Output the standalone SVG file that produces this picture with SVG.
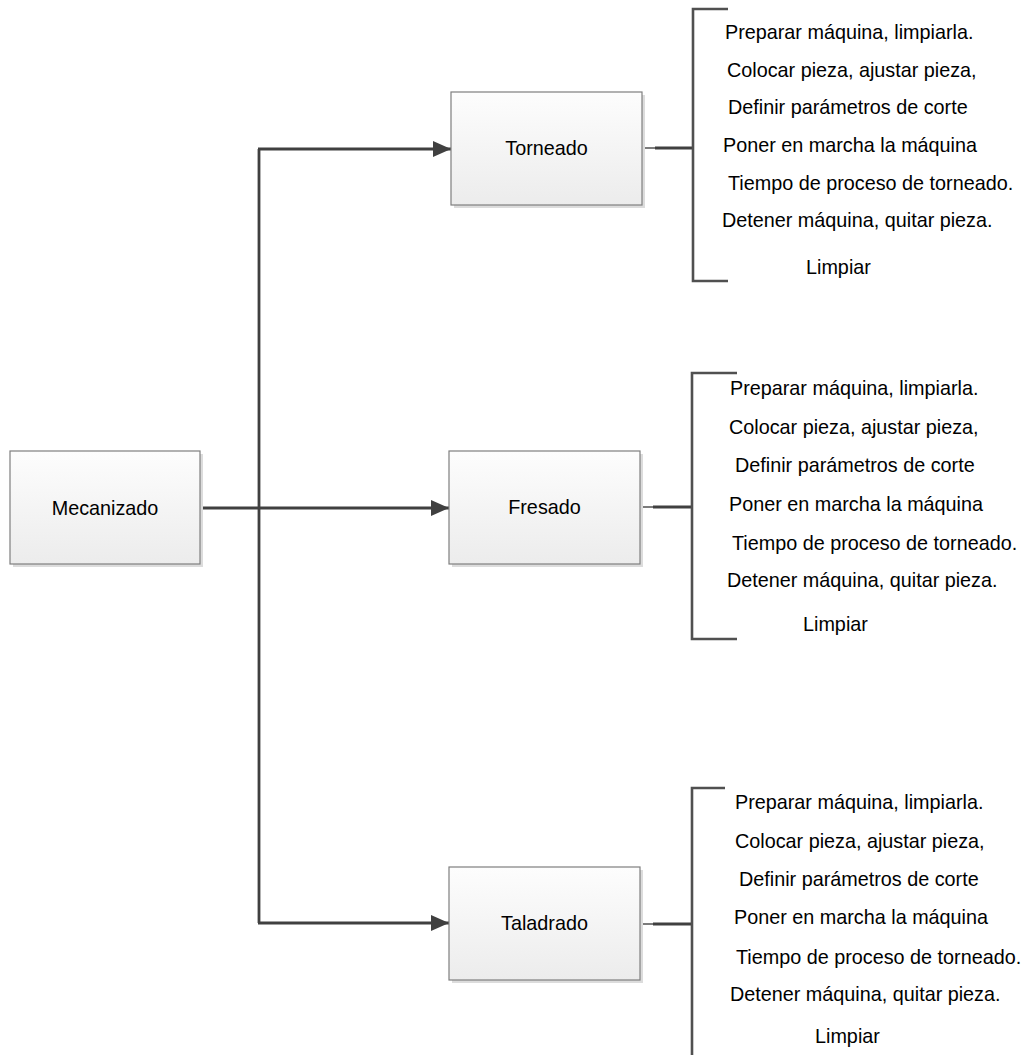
<svg xmlns="http://www.w3.org/2000/svg" width="1023" height="1055" viewBox="0 0 1023 1055">
  <defs>
    <linearGradient id="boxFill" x1="0" y1="0" x2="0" y2="1">
      <stop offset="0" stop-color="#fdfdfd"/>
      <stop offset="1" stop-color="#ececec"/>
    </linearGradient>
    <marker id="arrow" markerWidth="18" markerHeight="16" refX="18" refY="8" orient="auto" markerUnits="userSpaceOnUse">
      <path d="M0,0 L18,8 L0,16 Z" fill="#404040"/>
    </marker>
    <style>
      .shadow { fill: #dcdcdc; }
      .box { fill: url(#boxFill); stroke: #7f7f7f; stroke-width: 1.2; }
      .label { font-family: "Liberation Sans", Arial, sans-serif; font-size: 19.8px; fill: #000; }
      .step { font-family: "Liberation Sans", Arial, sans-serif; font-size: 19.8px; fill: #000; }
      .wire { fill: none; stroke: #404040; stroke-width: 2.8; }
      .thin { fill: none; stroke: #505050; stroke-width: 1.5; }
      .bracket { fill: none; stroke: #505050; stroke-width: 2.6; }
    </style>
  </defs>

  <rect width="1023" height="1055" fill="#ffffff"/>

  <!-- connectors -->
  <g id="connectors">
    <line class="wire" x1="200" y1="508" x2="259" y2="508"/>
    <line class="wire" x1="259" y1="149" x2="259" y2="923"/>
    <line class="wire" x1="258" y1="149" x2="451" y2="149" marker-end="url(#arrow)"/>
    <line class="wire" x1="259" y1="508" x2="449" y2="508" marker-end="url(#arrow)"/>
    <line class="wire" x1="258" y1="923" x2="449" y2="923" marker-end="url(#arrow)"/>

    <!-- box to bracket links -->
    <line class="thin" x1="642" y1="148" x2="656" y2="148"/>
    <line class="wire" x1="655" y1="148" x2="693" y2="148"/>
    <line class="thin" x1="640" y1="507" x2="654" y2="507"/>
    <line class="wire" x1="653" y1="507" x2="692" y2="507"/>
    <line class="thin" x1="640" y1="924" x2="654" y2="924"/>
    <line class="wire" x1="653" y1="924" x2="692" y2="924"/>

    <!-- brackets -->
    <path class="bracket" d="M728,9 H693 V281 H728"/>
    <path class="bracket" d="M737,373 H692 V639 H737"/>
    <path class="bracket" d="M725,788 H692 V1055"/>
  </g>

  <!-- Mecanizado -->
  <g id="mecanizado">
    <rect class="shadow" x="13" y="454" width="190" height="113"/>
    <rect class="box" x="10" y="451" width="190" height="113"/>
    <text class="label" x="105" y="515" text-anchor="middle">Mecanizado</text>
  </g>

  <!-- Torneado -->
  <g id="torneado">
    <rect class="shadow" x="454" y="95" width="191" height="113"/>
    <rect class="box" x="451" y="92" width="191" height="113"/>
    <text class="label" x="546.5" y="155" text-anchor="middle">Torneado</text>
  </g>

  <!-- Fresado -->
  <g id="fresado">
    <rect class="shadow" x="452" y="454" width="191" height="113"/>
    <rect class="box" x="449" y="451" width="191" height="113"/>
    <text class="label" x="544.5" y="514" text-anchor="middle">Fresado</text>
  </g>

  <!-- Taladrado -->
  <g id="taladrado">
    <rect class="shadow" x="452" y="870" width="191" height="113"/>
    <rect class="box" x="449" y="867" width="191" height="113"/>
    <text class="label" x="544.5" y="930" text-anchor="middle">Taladrado</text>
  </g>

  <!-- Torneado steps -->
  <g id="torneado-steps">
    <text class="step" x="725" y="39">Preparar máquina, limpiarla.</text>
    <text class="step" x="727" y="77">Colocar pieza, ajustar pieza,</text>
    <text class="step" x="728" y="114">Definir parámetros de corte</text>
    <text class="step" x="723" y="152">Poner en marcha la máquina</text>
    <text class="step" x="728" y="190">Tiempo de proceso de torneado.</text>
    <text class="step" x="722" y="227">Detener máquina, quitar pieza.</text>
    <text class="step" x="806" y="274">Limpiar</text>
  </g>

  <!-- Fresado steps -->
  <g id="fresado-steps">
    <text class="step" x="730" y="395">Preparar máquina, limpiarla.</text>
    <text class="step" x="729" y="434">Colocar pieza, ajustar pieza,</text>
    <text class="step" x="735" y="472">Definir parámetros de corte</text>
    <text class="step" x="729" y="511">Poner en marcha la máquina</text>
    <text class="step" x="732" y="550">Tiempo de proceso de torneado.</text>
    <text class="step" x="727" y="587">Detener máquina, quitar pieza.</text>
    <text class="step" x="803" y="631">Limpiar</text>
  </g>

  <!-- Taladrado steps -->
  <g id="taladrado-steps">
    <text class="step" x="735" y="809">Preparar máquina, limpiarla.</text>
    <text class="step" x="735" y="848">Colocar pieza, ajustar pieza,</text>
    <text class="step" x="739" y="886">Definir parámetros de corte</text>
    <text class="step" x="734" y="924">Poner en marcha la máquina</text>
    <text class="step" x="736" y="964">Tiempo de proceso de torneado.</text>
    <text class="step" x="730" y="1001">Detener máquina, quitar pieza.</text>
    <text class="step" x="815" y="1043">Limpiar</text>
  </g>
</svg>
